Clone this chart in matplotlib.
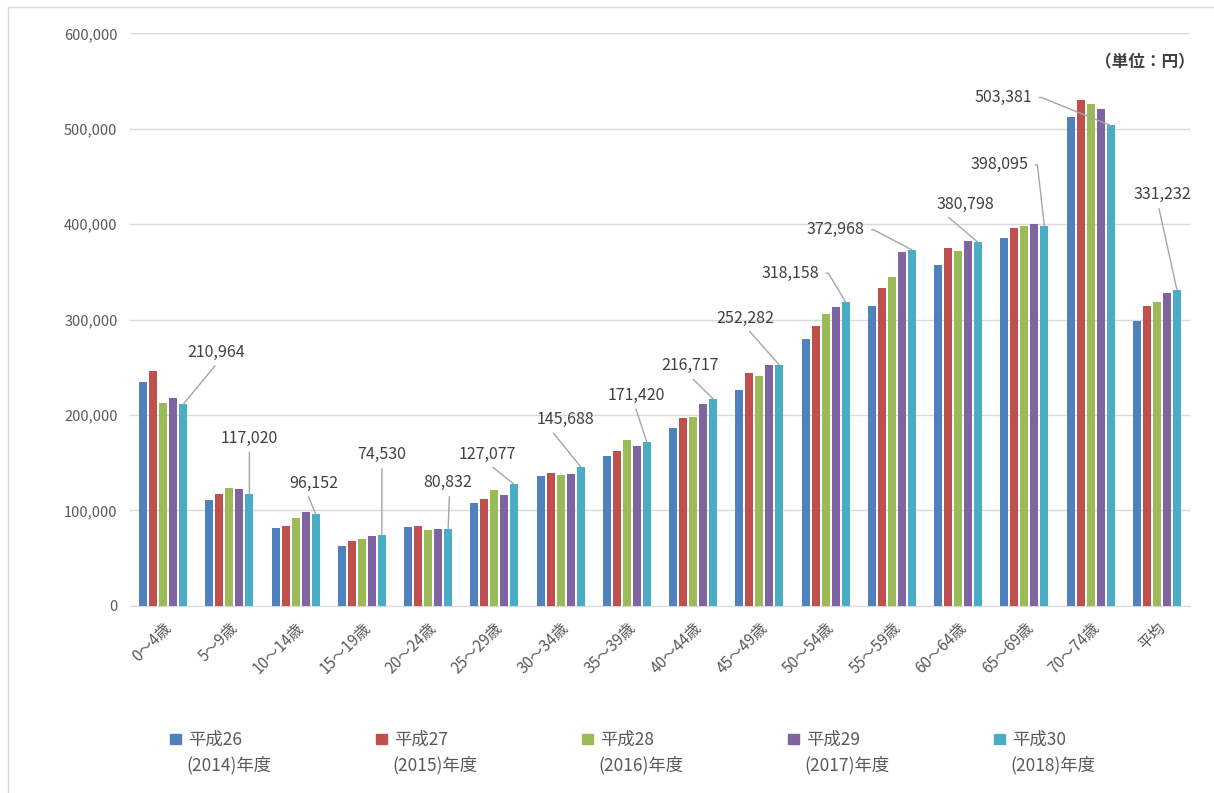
import numpy as np
import matplotlib
matplotlib.use("Agg")
import matplotlib.pyplot as plt
from matplotlib.patches import Rectangle
from matplotlib.lines import Line2D
from matplotlib.ticker import FuncFormatter

plt.rcParams['font.family'] = ['Noto Sans CJK JP', 'DejaVu Sans']

# 年齢階級
categories = ["0～4歳", "5～9歳", "10～14歳", "15～19歳", "20～24歳", "25～29歳",
              "30～34歳", "35～39歳", "40～44歳", "45～49歳", "50～54歳", "55～59歳",
              "60～64歳", "65～69歳", "70～74歳", "平均"]

h26 = [234400, 111100, 81500, 63100, 82500, 107400, 135500, 156400,
       186700, 226400, 279700, 314100, 356900, 385800, 512000, 298200]
h27 = [245600, 117000, 84000, 67400, 83600, 111700, 139400, 162000,
       196400, 243900, 293700, 333100, 374500, 395400, 529700, 314200]
h28 = [212700, 123700, 92300, 69900, 79400, 121600, 136500, 173900,
       197800, 241100, 305900, 344800, 372100, 397900, 525800, 318800]
h29 = [218000, 122300, 97900, 72700, 80800, 115600, 137900, 167600,
       211500, 252200, 312600, 370700, 382800, 400400, 520200, 328300]
h30 = [210964, 117020, 96152, 74530, 80832, 127077, 145688, 171420,
       216717, 252282, 318158, 372968, 380798, 398095, 503381, 331232]

series_labels = ["平成26\n(2014)年度", "平成27\n(2015)年度", "平成28\n(2016)年度",
                 "平成29\n(2017)年度", "平成30\n(2018)年度"]
colors = ["#4F81BD", "#C0504D", "#9BBB59", "#8064A2", "#4BACC6"]

# ラベル位置 (棒の頂点からのずれ px) と引き出し線の出発点
label_offsets = [(33, 52), (0, 56), (-2, 31), (0, 80), (-1, 46), (-27, 30),
                 (-15, 47), (-11, 47), (-23, 33), (-34, 47), (-55, 29), (-76, 20),
                 (-13, 38), (-45, 61), (-107, 28), (-15, 95)]
leader_start = [(0.55, 0), (0.5, 0), (0.35, 0), (0.5, 0), (0.55, 0), (0.5, 0),
                (0.22, 0), (0.47, 0), (0.47, 0), (0.5, 0), (1, 0.5), (1, 0.5),
                (0.12, 0), (1, 0.5), (1, 0.5), (0.43, 0)]

fig = plt.figure(figsize=(12.14, 7.93), dpi=100)
ax = fig.add_axes([130 / 1214, 1 - 605.7 / 793, 1060 / 1214, 572.4 / 793])

x = np.arange(len(categories))
pitch = 0.151
width = 0.118
all_series = [h26, h27, h28, h29, h30]
for k, (vals, c) in enumerate(zip(all_series, colors)):
    ax.bar(x + (k - 2) * pitch, vals, width=width, color=c, zorder=3)

ax.set_xlim(-0.5, len(categories) - 0.5)
ax.set_ylim(0, 600000)
ax.set_yticks(np.arange(0, 600001, 100000))
ax.yaxis.set_major_formatter(FuncFormatter(lambda v, p: f"{int(v):,}"))
ax.grid(axis='y', color='#d9d9d9', linewidth=1, zorder=0)
for s in ['top', 'right', 'left']:
    ax.spines[s].set_visible(False)
ax.spines['bottom'].set_color('#d9d9d9')
ax.tick_params(axis='both', length=0, colors='#595959')
ax.tick_params(axis='y', labelsize=10.5, pad=9)
ax.set_xticks(x)
ax.set_xticklabels(categories, rotation=45, ha='right', va='top',
                   rotation_mode='anchor', fontsize=11, color='#595959')
ax.tick_params(axis='x', pad=10)

# 平成30年度の値ラベル
for i, v in enumerate(h30):
    dx, dy = label_offsets[i]
    rel = leader_start[i]
    if rel == (1, 0.5):
        conn = "arc,angleA=0,armA=9,angleB=0,armB=0,rad=0"
        shrink = 3
    else:
        conn = "arc3,rad=0"
        shrink = 2
    ax.annotate(f"{v:,}", xy=(x[i] + 2 * pitch, v), xytext=(dx, dy),
                textcoords='offset pixels', ha='center', va='center',
                fontsize=11.5, color='#404040', zorder=5,
                arrowprops=dict(arrowstyle='-', color='#a6a6a6', lw=1,
                                relpos=rel, shrinkA=shrink, shrinkB=0,
                                connectionstyle=conn))

fig.text(1195 / 1214, 1 - 62 / 793, "（単位：円）", ha='right', va='center',
         fontsize=12, fontweight='bold', color='#404040')

# 凡例
for k, (lab, c) in enumerate(zip(series_labels, colors)):
    x0 = (170 + 206 * k) / 1214
    fig.patches.append(Rectangle((x0, 1 - 744 / 793), 10.5 / 1214, 10.5 / 793,
                                 transform=fig.transFigure, color=c))
    line1, line2 = lab.split("\n")
    fig.text(x0 + 18 / 1214, 1 - 740 / 793, line1, ha='left', va='center',
             fontsize=12.5, color='#595959')
    fig.text(x0 + 16 / 1214, 1 - 765 / 793, line2, ha='left', va='center',
             fontsize=12.5, color='#595959')

# 外枠
fig.add_artist(Line2D([8 / 1214, 8 / 1214], [0, 1 - 7 / 793],
                      transform=fig.transFigure, color='#d9d9d9', lw=1))
fig.add_artist(Line2D([8 / 1214, 1], [1 - 7 / 793, 1 - 7 / 793],
                      transform=fig.transFigure, color='#d9d9d9', lw=1))

fig.savefig("out.png", dpi=100)
